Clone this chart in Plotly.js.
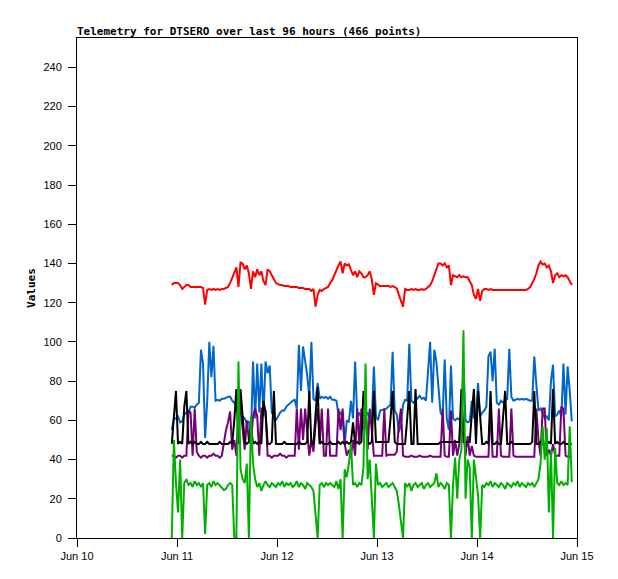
<!DOCTYPE html>
<html>
<head>
<meta charset="utf-8">
<script src="https://cdn.plot.ly/plotly-3.0.1.min.js"></script>
<style>
  html, body { margin: 0; padding: 0; background: #fff; }
  #chart { width: 618px; height: 579px; }
</style>
</head>
<body>
<div id="chart"></div>
<script>
'use strict';

/* ============================================================
   DATA, one sample per 30 min
   ============================================================ */
var startTime = '2015-06-10 22:45';
var stepMinutes = 30;

var dayTicks  = ['2015-06-10', '2015-06-11', '2015-06-12', '2015-06-13', '2015-06-14', '2015-06-15'];
var dayLabels = ['Jun 10', 'Jun 11', 'Jun 12', 'Jun 13', 'Jun 14', 'Jun 15'];

var redSeries = [
  129,130,130,130,129,127,128,129,129,128,
  128,128,128,128,128,127.5,119,126.5,127,126.5,
  127,126.5,127,126.5,127,127,127.5,128,130,133,
  136,138,128,140.5,140,137,139,135,127,136,
  133,137,134,136,131,129,137,136,134,132,
  130,129.5,129,129,128.5,128.5,128.5,128,128,128,
  128,127.5,127.5,127.5,127,127,127,126,127,118,
  124,126.5,126,127,127.5,128,130,131.5,134,137,
  139,141,135,140,139,139.5,137,134,136,133,
  136,135,133,133,134,136,132,124,130,129,
  128.5,128.5,128.5,128.5,128.5,128,128.5,128,127.3,124,
  121,118,127,126.5,126.5,127,126.5,127,126.5,126.5,
  127,126.5,127,128,129,131,134,137,140,140,
  139,140,138,139,129,134,133.5,133,134,133,
  133.5,133,133,131,129,124,122,127,121,126,
  127,127,126.5,127,126.5,126.5,126.5,126.5,126.5,126.5,
  126.5,126.5,126.5,126.5,126.5,126.5,126.5,126.5,126.5,126.5,
  126.5,127,128,130,132,135,139,141,139.5,140,
  138,139,136,130,134,135,133,134,133.5,134,
  133,131,129
];

var blueSeries = [
  55,61,61,62,59,59.5,63,64,64,67,
  67,66.5,68,69,96,89,51,70,100,82,
  98,70,70.5,70,71,71,71.5,72,72,70,
  69,67,63,65,62,61,58.6,59.5,52,90,
  61,89,64,89,62,90,84,88,64,62,
  60,62,64,65,65,67,68,69.5,70,70.5,
  66,98.6,75,97.7,90,83,72,100,71,70,
  79,71,72,71.5,72,71,72,70.5,70.5,70,
  63,64,61,47.5,60,59,70,61,90,62,
  64,61,63,62,64,61,60,87.5,62,60,
  65,65.4,65.5,66,67,68,95,65,63,54,
  58,68,70.5,70,99,70,69,70,71,72.5,
  71,71.5,70,85,100,69,96,90,76,64,
  62,91,61,55,88,61,60,61,60.5,61,
  87,60,59,59.5,70,61,62,79,62,64,
  65,67,92.6,95,80,96.5,69,68,70,69,
  70,71,96.5,72,70,70.5,71,70.5,71,70.5,
  71,70.5,70,70,92.6,78,65,66,64,61,
  62,60,80,88.4,62,63,65,62,89,63,
  87.5,75,59.5
];

var purpleSeries = [
  42,42,41,42,42,41,42,42,65,64,
  42,66,44,42,41,42,42,41,42,42,
  43,42,42,41,42,49,55,59,64.5,45,
  50,42,66,66,55,45,60,50,48,62,
  66,62,42,66,66,65,42,42,41,42,
  42,42,43,42,42,41,42,42,42,42,
  66,45,66,50,66,55,42,50,44,58,
  66,48,66,42,42,66,42,42,42,42,
  66,55,66,48,42,45,42,50,42,66,
  48,66,55,66,45,66,55,42,42,42,
  42,42,66,42,42.5,42.5,42.5,42.5,44,58,
  66,42,41.5,41.5,41.5,42,41.5,41.5,41.5,42,
  41.5,41.5,41.5,41.5,42,41.5,41.5,41.5,41.5,41.5,
  66,42,41.5,41.5,65,42,50,42,48,69,
  55,42,52,42,47,42,41.5,41.5,41.5,41.5,
  41.5,41.5,41.5,66,41.5,41.5,41.5,66,42,41.5,
  41.5,41.5,41.5,66,42,41.5,41.5,41.5,41.5,41.5,
  41.5,41.5,41.5,41.5,41.5,66,50,42,66,66,
  42,45,42,48,42,42,42,67,66,42,
  41.5,41.5,41.5
];

var blackSeries = [
  48,61,75,48,49,48,67,75,48,49,
  48,49,48,48,49,48,48,49,48,48,
  48,48,48,49,48,48,48,48,49,48,
  60,76,48,76,62,49,48,49,57,48,
  49,48,49,48,70,64,48,48,49,75,
  48,48,48,48,49,48,48,48,48,48,
  48,49,48,48,48,49,75,48,48,63,
  77,48,49,48,48,48,49,48,48,48,
  49,48,49,48,49,48,49,59,48,49,
  48,49,75,65,49,48,49,75,49,49,
  49,49,49,49,49,61,75,49,48,48,
  48,48,48,61,75,48,48,76,48,48,
  48,48,48,48,48,48,48,48,48,49,
  49,49,49,49,49,49,49,49,49,76,
  49,49,49,49,63,76,48,75,62,48,
  48,49,48,75,48,48,49,48,48,62,
  75,48,48,49,48,48,48,48,48,48,
  48,48,48,49,75,48,48,49,48,48,
  48,49,48,76,48,49,48,48,49,48,
  48,48,48
];

var greenSeries = [
  0,50,28,13,40,0,28,30,27,28,
  26,29,27,28,26,28,2,27,28,26,
  29,27,28,27,26,24.5,25,27,28,27,
  0,0,90,35,30,28,38,0,62,38,
  30,26,28,24,27,29,27,26,28,27,
  26,28,27,29,26,28,27,28,26,27,
  29,26,28,27,25,28,27,26,24,13,
  0,27,28,26,28,27,28,27,26,29,
  25,30,0,35,31,38,48,27,28,26,
  28,27,36,89,30,40,20,0,38,27,
  28,26,27,28,26,27,28,26,24,17,
  7,0,28,26,28,24,27,28,26,27,
  28,25,27,28,26,27,28,33,26,28,
  27,25,28,27,0,27,41,20,40,45,
  106,20,40,36,0,40,30,22,0,27,
  26,28,27,29,26,28,27,26,28,27,
  25,28,27,26,28,27,29,26,28,27,
  26,28,27,28,26,28,30,38,57,40,
  56,13,45,0,46,28,27,29,27,28,
  27,57,28.5
];

/* ============================================================
   SAMPLE TIMES – regular 30 min steps from the first sample
   ============================================================ */
function sampleTimes(count) {
  var t0 = new Date(startTime.replace(' ', 'T') + ':00Z').getTime();
  var out = [];
  for (var i = 0; i < count; i++) out.push(t0 + i * stepMinutes * 60000);
  return out;
}

var times = sampleTimes(redSeries.length);

function trace(values, color, name) {
  return {
    x: times, y: values, name: name,
    type: 'scatter', mode: 'lines',
    line: { color: color, width: 2 },
    hoverinfo: 'skip'
  };
}

var monoBold = { family: 'DejaVu Sans Mono, monospace', size: 11, color: '#000', weight: 'bold' };
var tickFont = { family: 'Liberation Sans, Arial, sans-serif', size: 11, color: '#000' };

Plotly.newPlot('chart', [
  trace(redSeries,    '#ff0000', 'red'),
  trace(blueSeries,   '#0066cc', 'blue'),
  trace(purpleSeries, '#770077', 'purple'),
  trace(blackSeries,  '#000000', 'black'),
  trace(greenSeries,  '#00b000', 'green')
], {
  width: 618, height: 579,
  paper_bgcolor: '#fff', plot_bgcolor: '#fff',
  margin: { t: 38, r: 41, b: 41, l: 77 },
  showlegend: false,
  title: {
    text: 'Telemetry for DTSERO over last 96 hours (466 points)',
    font: monoBold,
    x: 77 / 618, xanchor: 'left',
    y: 1 - 31 / 579, yanchor: 'middle'
  },
  xaxis: {
    type: 'date',
    range: ['2015-06-10', '2015-06-15'],
    tickvals: dayTicks, ticktext: dayLabels,
    tickfont: tickFont,
    ticks: 'outside', ticklen: 8, tickcolor: '#000',
    showgrid: false, zeroline: false,
    showline: true, linecolor: '#000', linewidth: 1, mirror: true
  },
  yaxis: {
    range: [0, 255],
    tickvals: [0, 20, 40, 60, 80, 100, 120, 140, 160, 180, 200, 220, 240],
    tickfont: tickFont,
    ticks: 'outside', ticklen: 8, tickcolor: '#000',
    ticklabelstandoff: 4,
    showgrid: false, zeroline: false,
    showline: true, linecolor: '#000', linewidth: 1, mirror: true,
    title: { text: 'Values', font: monoBold, standoff: 5 }
  }
}, { displayModeBar: false, staticPlot: true });
</script>
</body>
</html>
